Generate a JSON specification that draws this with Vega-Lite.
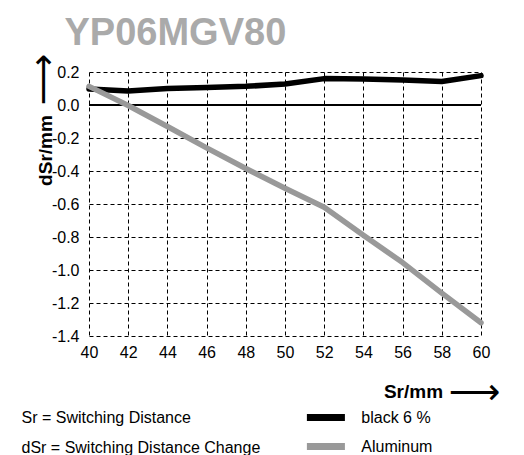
{
  "$schema": "https://vega.github.io/schema/vega-lite/v6.json",
  "width": 392,
  "height": 264,
  "autosize": {"type": "none"},
  "padding": {"left": 89, "top": 72, "right": 43, "bottom": 119},
  "background": "white",
  "config": {"font": "Liberation Sans", "view": {"stroke": null}},
  "title": {"text": "YP06MGV80", "anchor": "start", "frame": "group", "dx": -24.5, "dy": 40, "offset": 10, "baseline": "alphabetic", "fontSize": 38, "fontWeight": "bold", "color": "#aaaaaa"},
  "layer": [
    {
      "data": {"values": [{"zero": 0, "from": 40, "to": 60}]},
      "mark": {"type": "rule", "strokeWidth": 2, "color": "black"},
      "encoding": {
        "x": {"field": "from", "type": "quantitative", "scale": {"domain": [40, 60], "nice": false, "zero": false},
          "axis": {"orient": "bottom", "labels": false, "ticks": false, "domain": false, "grid": false, "title": "⟶", "titleFont": "DejaVu Sans", "titleFontSize": 36, "titleFontWeight": "normal", "titleColor": "black", "titleX": 385, "titleY": 56, "titleAlign": "center", "titleBaseline": "middle"}},
        "x2": {"field": "to"},
        "y": {"field": "zero", "type": "quantitative", "scale": {"domain": [-1.4, 0.2], "nice": false, "zero": false},
          "axis": {"orient": "left", "labels": false, "ticks": false, "domain": false, "grid": false, "title": "⟶", "titleFont": "DejaVu Sans", "titleFontSize": 36, "titleFontWeight": "normal", "titleColor": "black", "titleX": -45.5, "titleY": 7, "titleAngle": 270, "titleAlign": "center", "titleBaseline": "middle"}}
      }
    },
    {
      "data": {"values": [
        {"sr": 40, "dsr": 0.097, "series": "black 6 %"},
        {"sr": 42, "dsr": 0.085, "series": "black 6 %"},
        {"sr": 44, "dsr": 0.1, "series": "black 6 %"},
        {"sr": 46, "dsr": 0.106, "series": "black 6 %"},
        {"sr": 48, "dsr": 0.113, "series": "black 6 %"},
        {"sr": 50, "dsr": 0.127, "series": "black 6 %"},
        {"sr": 52, "dsr": 0.16, "series": "black 6 %"},
        {"sr": 54, "dsr": 0.157, "series": "black 6 %"},
        {"sr": 56, "dsr": 0.152, "series": "black 6 %"},
        {"sr": 58, "dsr": 0.142, "series": "black 6 %"},
        {"sr": 60, "dsr": 0.178, "series": "black 6 %"},
        {"sr": 40, "dsr": 0.113, "series": "Aluminum"},
        {"sr": 42, "dsr": -0.003, "series": "Aluminum"},
        {"sr": 44, "dsr": -0.13, "series": "Aluminum"},
        {"sr": 46, "dsr": -0.26, "series": "Aluminum"},
        {"sr": 48, "dsr": -0.385, "series": "Aluminum"},
        {"sr": 50, "dsr": -0.505, "series": "Aluminum"},
        {"sr": 52, "dsr": -0.62, "series": "Aluminum"},
        {"sr": 54, "dsr": -0.79, "series": "Aluminum"},
        {"sr": 56, "dsr": -0.955, "series": "Aluminum"},
        {"sr": 58, "dsr": -1.14, "series": "Aluminum"},
        {"sr": 60, "dsr": -1.32, "series": "Aluminum"}
      ]},
      "mark": {"type": "line", "strokeWidth": 5.5, "strokeCap": "round", "strokeJoin": "round"},
      "encoding": {
        "x": {"field": "sr", "type": "quantitative",
          "axis": {"orient": "bottom", "values": [40, 42, 44, 46, 48, 50, 52, 54, 56, 58, 60], "grid": true, "gridColor": "black", "gridDash": [4, 3], "gridWidth": 1, "gridOpacity": 1, "domain": false, "ticks": false, "tickSize": 0, "labelPadding": 8, "labelFontSize": 16, "labelColor": "black", "labelFlush": false, "labelOverlap": false, "title": "Sr/mm", "titleFontSize": 19, "titleFontWeight": "bold", "titleColor": "black", "titleX": 324, "titleY": 55, "titleAlign": "center", "titleBaseline": "middle"}},
        "y": {"field": "dsr", "type": "quantitative",
          "axis": {"orient": "left", "values": [-1.4, -1.2, -1.0, -0.8, -0.6, -0.4, -0.2, 0, 0.2], "grid": true, "gridColor": "black", "gridDash": [4, 3], "gridWidth": 1, "gridOpacity": 1, "domain": false, "ticks": false, "tickSize": 0, "labelPadding": 10, "labelFontSize": 16, "labelColor": "black", "labelOverlap": false, "labelExpr": "replace(format(datum.value, '.1f'), '\u2212', '-')", "title": "dSr/mm", "titleFontSize": 19, "titleFontWeight": "bold", "titleColor": "black", "titleX": -43.5, "titleY": 78, "titleAngle": 270, "titleAlign": "center", "titleBaseline": "middle"}},
        "color": {"field": "series", "type": "nominal", "sort": ["black 6 %", "Aluminum"],
          "scale": {"domain": ["black 6 %", "Aluminum"], "range": ["#000000", "#999999"]},
          "legend": {"orient": "none", "legendX": -67.5, "legendY": 331, "direction": "vertical", "title": ["Sr = Switching Distance", "dSr = Switching Distance Change"], "titleOrient": "left", "titleFontSize": 16, "titleFontWeight": "normal", "titleColor": "black", "titleLineHeight": 29.8, "titleLimit": 400, "titleBaseline": "line-top", "titleAnchor": "start", "titlePadding": 50.9, "labelFontSize": 16, "labelColor": "black", "labelOffset": 20.9, "labelLimit": 300, "symbolType": "M-1.792,0H1.792", "symbolSize": 450, "symbolStrokeWidth": 7, "rowPadding": -2.5, "padding": 0}}
      }
    }
  ],
  "resolve": {"axis": {"x": "independent", "y": "independent"}}
}
